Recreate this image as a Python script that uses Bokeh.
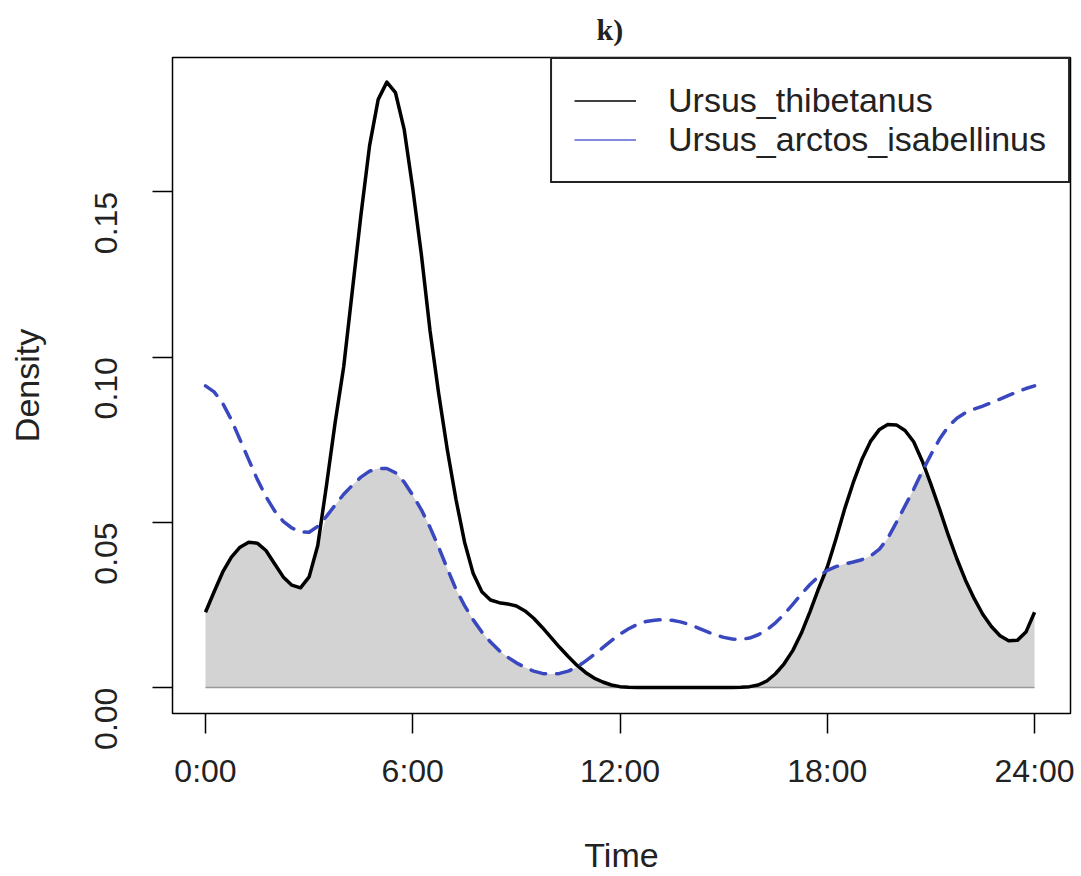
import math
import numpy as np
from bokeh.plotting import figure
from bokeh.models import FixedTicker, Range1d, Legend, LegendItem
from bokeh.embed import file_html
from bokeh.resources import INLINE

# ---------------- data ----------------
hours = [0.0, 0.25, 0.5, 0.75, 1.0, 1.25, 1.5, 1.75, 2.0, 2.25, 2.5, 2.75,
         3.0, 3.25, 3.5, 3.75, 4.0, 4.25, 4.5, 4.75, 5.0, 5.25, 5.5, 5.75,
         6.0, 6.25, 6.5, 6.75, 7.0, 7.25, 7.5, 7.75, 8.0, 8.25, 8.5, 8.75,
         9.0, 9.25, 9.5, 9.75, 10.0, 10.25, 10.5, 10.75, 11.0, 11.25, 11.5, 11.75,
         12.0, 12.25, 12.5, 12.75, 13.0, 13.25, 13.5, 13.75, 14.0, 14.25, 14.5, 14.75,
         15.0, 15.25, 15.5, 15.75, 16.0, 16.25, 16.5, 16.75, 17.0, 17.25, 17.5, 17.75,
         18.0, 18.25, 18.5, 18.75, 19.0, 19.25, 19.5, 19.75, 20.0, 20.25, 20.5, 20.75,
         21.0, 21.25, 21.5, 21.75, 22.0, 22.25, 22.5, 22.75, 23.0, 23.25, 23.5, 23.75,
         24.0]

ursus_thibetanus = [
    0.0228, 0.0290, 0.0350, 0.0395, 0.0425, 0.0440, 0.0437, 0.0415, 0.0375, 0.0335, 0.0310, 0.0302,
    0.0335, 0.0430, 0.0610, 0.0800, 0.0970, 0.1200, 0.1430, 0.1640, 0.1780, 0.1832, 0.1800, 0.1690,
    0.1510, 0.1310, 0.1080, 0.0890, 0.0720, 0.0570, 0.0440, 0.0345, 0.0290, 0.0265, 0.0257, 0.0253,
    0.0247, 0.0232, 0.0210, 0.0182, 0.0152, 0.0122, 0.0094, 0.0068, 0.0046, 0.0029, 0.0017, 0.0008,
    0.0003, 0.0001, 0.0, 0.0, 0.0, 0.0, 0.0, 0.0, 0.0, 0.0, 0.0, 0.0,
    0.0, 0.0, 0.0001, 0.0003, 0.0008, 0.0020, 0.0042, 0.0072, 0.0112, 0.0165, 0.0230, 0.0300,
    0.0365, 0.0450, 0.0540, 0.0620, 0.0690, 0.0745, 0.0780, 0.0796, 0.0795, 0.0778, 0.0744, 0.0685,
    0.0615, 0.0540, 0.0462, 0.0390, 0.0325, 0.0270, 0.0222, 0.0185, 0.0157, 0.0142, 0.0143, 0.0168,
    0.0228]

ursus_arctos_isabellinus = [
    0.0913, 0.0895, 0.0860, 0.0810, 0.0750, 0.0690, 0.0630, 0.0578, 0.0535, 0.0503, 0.0483, 0.0471,
    0.0470, 0.0488, 0.0518, 0.0552, 0.0585, 0.0612, 0.0637, 0.0655, 0.0663, 0.0663, 0.0650, 0.0622,
    0.0582, 0.0538, 0.0485, 0.0425, 0.0360, 0.0298, 0.0248, 0.0205, 0.0168, 0.0138, 0.0112, 0.0092,
    0.0075, 0.0061, 0.0050, 0.0043, 0.0041, 0.0043, 0.0050, 0.0062, 0.0080, 0.0100, 0.0121, 0.0142,
    0.0162, 0.0178, 0.0191, 0.0200, 0.0204, 0.0206, 0.0204, 0.0199, 0.0191, 0.0181, 0.0170, 0.0160,
    0.0152, 0.0147, 0.0146, 0.0150, 0.0160, 0.0175, 0.0196, 0.0222, 0.0252, 0.0283, 0.0312, 0.0337,
    0.0355, 0.0366, 0.0374, 0.0380, 0.0387, 0.0398, 0.0418, 0.0452, 0.0500, 0.0550, 0.0600, 0.0655,
    0.0705, 0.0752, 0.0790, 0.0815, 0.0832, 0.0843, 0.0852, 0.0862, 0.0873, 0.0884, 0.0895, 0.0905,
    0.0913]

series_names = ["Ursus_thibetanus", "Ursus_arctos_isabellinus"]
x_ticks = [0, 6, 12, 18, 24]
x_tick_labels = ["0:00", "6:00", "12:00", "18:00", "24:00"]
y_ticks = [0.0, 0.05, 0.10, 0.15]
y_tick_labels = ["0.00", "0.05", "0.10", "0.15"]
title_text = "k)"
x_label = "Time"
y_label = "Density"

# ---------------- styling ----------------
BLUE = "#3a48c0"
GREY_FILL = "#d3d3d3"
SANS = "Liberation Sans"

h = np.array(hours)
a = np.array(ursus_thibetanus)
b = np.array(ursus_arctos_isabellinus)
overlap = np.minimum(a, b)

p = figure(width=1081, height=876, output_backend="svg", toolbar_location=None,
           x_range=Range1d(-0.955, 25.04), y_range=Range1d(-0.00783, 0.19066),
           min_border_left=172, min_border_right=11,
           min_border_top=57, min_border_bottom=160)

p.background_fill_color = "white"
p.border_fill_color = "white"
p.grid.visible = False
p.outline_line_color = "black"
p.outline_line_width = 1.5

# overlap area + baseline
p.varea(x=h, y1=np.zeros_like(h), y2=overlap, fill_color=GREY_FILL)
p.line(h, np.zeros_like(h), line_color="#999999", line_width=1.5)

# curves
p.line(h, a, line_color="black", line_width=3.5, line_join="round")
p.line(h, b, line_color=BLUE, line_width=3.5, line_dash="15 11",
       line_cap="round", line_join="round")

# legend (solid thin samples as in the reference)
leg_a = p.line([np.nan], [np.nan], line_color="black", line_width=1.5)
leg_b = p.line([np.nan], [np.nan], line_color="#5a62d0", line_width=1.5)
legend = Legend(items=[LegendItem(label=series_names[0], renderers=[leg_a]),
                       LegendItem(label=series_names[1], renderers=[leg_b])],
                location="top_right", margin=0, padding=22, spacing=0,
                glyph_width=62, glyph_height=37, label_height=37,
                label_standoff=32, label_text_font=SANS,
                label_text_font_size="34px", label_text_color="#222222",
                border_line_color="#222222", border_line_width=2,
                border_line_alpha=1.0,
                background_fill_color="white", background_fill_alpha=1.0)
p.add_layout(legend)

# title "k)"
p.title.text = title_text
p.title.align = "left"
p.title.offset = 424
p.title.vertical_align = "top"
p.title.text_font = "Liberation Serif"
p.title.text_font_style = "bold"
p.title.text_font_size = "30px"
p.title.text_color = "#222222"
p.title.standoff = 19

# axes
for ax in (p.xaxis[0], p.yaxis[0]):
    ax.axis_line_color = None
    ax.major_tick_in = 0
    ax.major_tick_out = 20
    ax.major_tick_line_color = "black"
    ax.major_tick_line_width = 1.5
    ax.minor_tick_line_color = None
    ax.major_label_text_font = SANS
    ax.major_label_text_font_size = "32px"
    ax.major_label_text_color = "#222222"
    ax.axis_label_text_font = SANS
    ax.axis_label_text_font_size = "34px"
    ax.axis_label_text_font_style = "normal"
    ax.axis_label_text_color = "#222222"

p.xaxis.ticker = FixedTicker(ticks=x_ticks)
p.xaxis.major_label_overrides = {t: l for t, l in zip(x_ticks, x_tick_labels)}
p.xaxis.axis_label = x_label
p.xaxis.major_label_standoff = 19
p.xaxis.axis_label_standoff = 44

p.yaxis.ticker = FixedTicker(ticks=y_ticks)
p.yaxis.major_label_overrides = {t: l for t, l in zip(y_ticks, y_tick_labels)}
p.yaxis.axis_label = y_label
p.yaxis.major_label_orientation = math.pi / 2
p.yaxis.major_label_standoff = 46
p.yaxis.axis_label_standoff = 36

open("out.html", "w").write(file_html(p, INLINE))
